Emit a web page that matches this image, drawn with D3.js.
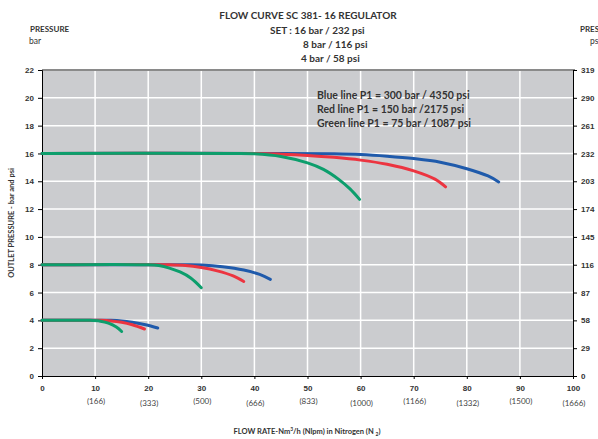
<!DOCTYPE html>
<html>
<head>
<meta charset="utf-8">
<script src="https://cdn.jsdelivr.net/npm/d3@7"></script>
<style>
  body { margin: 0; background: #fff; }
  svg { font-family: Lato, "Open Sans", sans-serif; font-weight: bold; }
</style>
</head>
<body>
<div id="chart"></div>
<script>
;(function () {
  // flow (Nm3/h) vs outlet pressure (bar)
  const blue16 = [[0,16],[45,16],[55,15.97],[60,15.92],[65,15.8],[70,15.63],[75,15.37],[80,14.9],[84,14.38],[86,13.95]]
  const red16 = [[0,16],[40,16],[45,15.95],[50,15.86],[55,15.72],[60,15.52],[65,15.22],[70,14.75],[74,14.15],[76,13.6]]
  const green16 = [[0,16],[36,16],[40,15.97],[45,15.78],[50,15.32],[53,14.85],[56,14.1],[58,13.45],[59.8,12.7]]
  const blue8 = [[0,8],[27,8],[30,7.98],[34,7.86],[38,7.62],[41,7.3],[43,6.95]]
  const red8 = [[0,8],[24,8],[27,7.95],[30,7.8],[33,7.56],[36,7.2],[38,6.8]]
  const green8 = [[0,8],[20,8],[22,7.94],[24,7.76],[26,7.48],[28,7.05],[30,6.35]]
  const blue4 = [[0,4],[13,4],[15,3.96],[17,3.86],[19.5,3.68],[21.8,3.45]]
  const red4 = [[0,4],[11,4],[13,3.96],[15,3.86],[17,3.68],[19.3,3.38]]
  const green4 = [[0,4],[9,4],[11,3.94],[12.5,3.8],[14,3.52],[15,3.2]]

  const xTicks = [0, 10, 20, 30, 40, 50, 60, 70, 80, 90, 100]
  const nlpmLabels = ["", "(166)", "(333)", "(500)", "(666)", "(833)", "(1000)", "(1166)", "(1332)", "(1500)", "(1666)"]
  const barTicks = [0, 2, 4, 6, 8, 10, 12, 14, 16, 18, 20, 22]
  const psiLabels = ["0", "29", "58", "87", "116", "145", "174", "203", "232", "261", "290", "319"]
  const legendLines = ["Blue line P1 = 300 bar / 4350 psi", "Red line P1 = 150 bar /2175 psi", "Green line P1 = 75 bar / 1087 psi"]

  const width = 598
  const height = 439
  const left = 42, right = 573, top = 70, bottom = 376

  const svg = d3.select("#chart").append("svg").attr("width", width).attr("height", height)

  const x = d3.scaleLinear().domain([0, 100]).range([left, right])
  const y = d3.scaleLinear().domain([0, 22]).range([bottom, top])

  svg.append("rect")
    .attr("x", left).attr("y", top)
    .attr("width", right - left).attr("height", bottom - top)
    .attr("fill", "#cbcccf")

  // white grid
  svg.append("g")
    .selectAll("line.v")
    .data(xTicks.slice(1, -1))
    .join("line")
    .attr("x1", d => x(d)).attr("x2", d => x(d))
    .attr("y1", top).attr("y2", bottom)
    .attr("stroke", "#fff").attr("stroke-width", 1.5)

  svg.append("g")
    .selectAll("line.h")
    .data(barTicks.slice(1, -1))
    .join("line")
    .attr("x1", left).attr("x2", right)
    .attr("y1", d => y(d)).attr("y2", d => y(d))
    .attr("stroke", "#fff").attr("stroke-width", 1.5)

  // top border
  svg.append("line")
    .attr("x1", left).attr("x2", right + 2).attr("y1", top).attr("y2", top)
    .attr("stroke", "#8a8a8a").attr("stroke-width", 2)

  const tickFont = g => g.selectAll("text").attr("font-size", 8).attr("font-weight", "bold").attr("fill", "#333")

  const leftAxis = svg.append("g")
    .attr("transform", `translate(${left},0)`)
    .call(d3.axisLeft(y).tickValues(barTicks).tickSize(4).tickPadding(4))
  leftAxis.call(tickFont)
  leftAxis.select(".domain").attr("stroke", "#000")

  const rightAxis = svg.append("g")
    .attr("transform", `translate(${right},0)`)
    .call(d3.axisRight(y).tickValues(barTicks).tickSize(4).tickPadding(4).tickFormat((d, i) => psiLabels[i]))
  rightAxis.call(tickFont)
  rightAxis.select(".domain").attr("stroke", "#000")

  const bottomAxis = svg.append("g")
    .attr("transform", `translate(0,${bottom})`)
    .call(d3.axisBottom(x).tickValues(xTicks).tickSize(3).tickPadding(6))
  bottomAxis.call(tickFont)
  bottomAxis.select(".domain").attr("stroke", "#000")

  // second row of flow labels in Nlpm
  svg.append("g")
    .selectAll("text")
    .data(xTicks)
    .join("text")
    .attr("x", d => x(d) + 1)
    .attr("y", (d, i) => (i % 2 === 0 ? 406 : 404))
    .attr("text-anchor", "middle")
    .attr("font-size", 8)
    .attr("font-weight", "normal")
    .attr("fill", "#444")
    .text((d, i) => nlpmLabels[i])

  // curves
  const line = d3.line().x(d => x(d[0])).y(d => y(d[1])).curve(d3.curveCatmullRom.alpha(0.5))
  const series = [
    { data: blue16, color: "#1f5aab" },
    { data: red16, color: "#ec3440" },
    { data: green16, color: "#0c9e6c" },
    { data: blue8, color: "#1f5aab" },
    { data: red8, color: "#ec3440" },
    { data: green8, color: "#0c9e6c" },
    { data: blue4, color: "#1f5aab" },
    { data: red4, color: "#ec3440" },
    { data: green4, color: "#0c9e6c" }
  ]
  svg.append("g")
    .selectAll("path")
    .data(series)
    .join("path")
    .attr("d", d => line(d.data))
    .attr("fill", "none")
    .attr("stroke", d => d.color)
    .attr("stroke-width", 3)
    .attr("stroke-linecap", "round")

  // legend text
  svg.append("g")
    .selectAll("text")
    .data(legendLines)
    .join("text")
    .attr("x", 317)
    .attr("y", (d, i) => 99 + i * 14)
    .attr("font-size", 10.5)
    .attr("fill", "#333")
    .text(d => d)

  // titles
  const head = svg.append("g").attr("fill", "#333").attr("font-size", 10)
  head.append("text").attr("x", 308).attr("y", 19).attr("text-anchor", "middle").text("FLOW CURVE SC 381- 16 REGULATOR")
  head.append("text").attr("x", 270).attr("y", 34).text("SET : 16 bar / 232 psi")
  head.append("text").attr("x", 303).attr("y", 48).text("8 bar / 116 psi")
  head.append("text").attr("x", 301).attr("y", 62).text("4 bar / 58 psi")

  const small = svg.append("g").attr("fill", "#333").attr("font-size", 8)
  small.append("text").attr("x", 30).attr("y", 32).text("PRESSURE")
  small.append("text").attr("x", 29).attr("y", 44).attr("font-weight", "normal").attr("font-size", 8.5).text("bar")
  small.append("text").attr("x", 580).attr("y", 32).text("PRESSURE")
  small.append("text").attr("x", 590).attr("y", 44).attr("font-weight", "normal").attr("font-size", 8.5).text("psi")

  small.append("text")
    .attr("transform", `translate(14,${(top + bottom) / 2}) rotate(-90)`)
    .attr("text-anchor", "middle")
    .attr("font-size", 7.5)
    .text("OUTLET PRESSURE - bar and psi")

  const xt = small.append("text").attr("x", 307).attr("y", 434).attr("text-anchor", "middle").attr("font-size", 7.5)
  xt.append("tspan").text("FLOW RATE-Nm")
  xt.append("tspan").attr("dy", -3).attr("font-size", 5).text("3")
  xt.append("tspan").attr("dy", 3).text("/h (Nlpm) in Nitrogen (N ")
  xt.append("tspan").attr("dy", 2).attr("font-size", 5).text("2")
  xt.append("tspan").attr("dy", -2).text(")")
})()
</script>
</body>
</html>
